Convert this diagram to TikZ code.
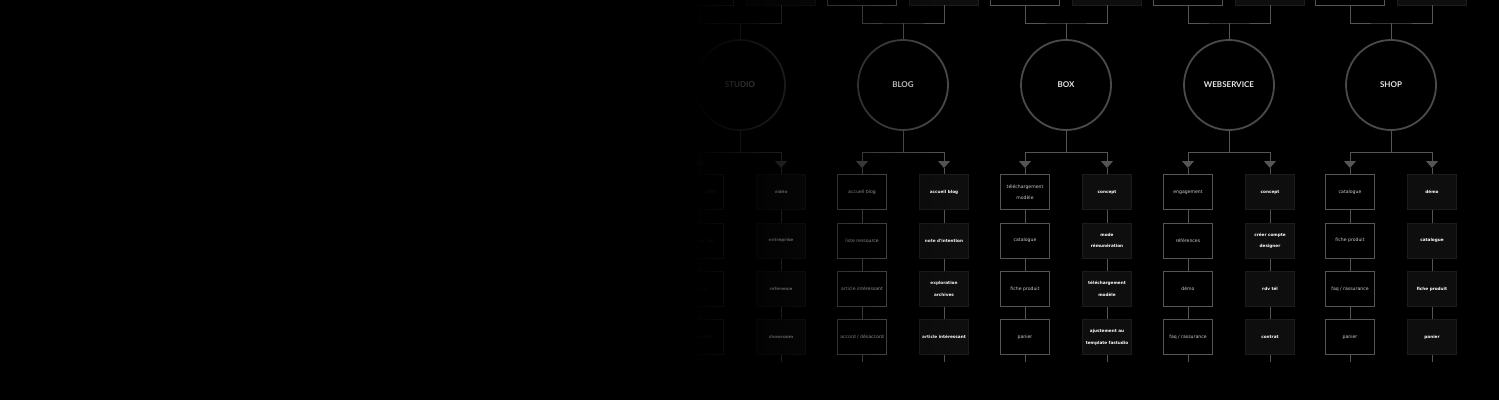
\documentclass[tikz,border=0pt]{standalone}
\usepackage{fontspec}
\setmainfont{Lato}
\newfontfamily\pagefont{DejaVu Sans}
\usetikzlibrary{arrows.meta,fadings}

\definecolor{linegray}{HTML}{555555}
\definecolor{ringgray}{HTML}{4A4A4A}
\definecolor{boxfill}{HTML}{0E0E0E}
\definecolor{boxedge}{HTML}{1C1C1C}
\definecolor{textgray}{HTML}{CCCCCC}
\definecolor{labelgray}{HTML}{E6E6E6}

\tikzfading[name=fade right, left color=transparent!0, right color=transparent!100]

\tikzset{
  pagebox/.style={draw=linegray, line width=0.9pt, fill=black, text=textgray,
    minimum width=49pt, minimum height=35pt, inner sep=1pt, align=center,
    font=\pagefont\fontsize{4.6}{11.5}\selectfont},
  pickbox/.style={pagebox, draw=boxedge, fill=boxfill, text=white,
    font=\pagefont\fontsize{4.2}{11.5}\selectfont\bfseries},
  rubric/.style={circle, draw=ringgray, line width=1.8pt, minimum size=90pt,
    inner sep=0pt, text=labelgray, font=\fontsize{8}{10}\selectfont\bfseries},
  wire/.style={draw=linegray, line width=0.9pt},
  drop/.style={wire, -{Triangle[length=7pt,width=12pt]}},
}

\begin{document}
\begin{tikzpicture}[x=1pt,y=-1pt]
\fill[black] (0,0) rectangle (1499,400);
\useasboundingbox (0,0) rectangle (1499,400);
\clip (0,0) rectangle (1499,400);
\foreach \cx/\nm/\lbl/\lefts/\rights in {
  740/studio/STUDIO/{équipe / profils,étude de cas,contacts,philosophie}/{vidéo,entreprise,référence,showroom},
  903/blog/BLOG/{accueil blog,liste ressource,article intéressant,accord / désaccord}/{accueil blog,note d'intention,exploration\\archives,article intéressant},
  1066/box/BOX/{téléchargement\\modèle,catalogue,fiche produit,panier}/{concept,mode\\rémunération,téléchargement\\modèle,ajustement au\\template fastudio},
  1229/ws/WEBSERVICE/{engagement,références,démo,faq / rassurance}/{concept,créer compte\\designer,rdv tél,contrat},
  1391/shop/SHOP/{catalogue,fiche produit,faq / rassurance,panier}/{démo,catalogue,fiche produit,panier}} {
  % top row, cut by the page edge
  \node[pagebox, minimum width=69pt] (\nm-tl) at (\cx-41,-12.5) {};
  \node[pickbox, minimum width=69pt] (\nm-tr) at (\cx+41,-12.5) {};
  \node[rubric] (\nm) at (\cx,85) {\lbl};
  \coordinate (\nm-join) at (\cx,23);
  \draw[wire] (\nm-tl.south) |- (\nm-join) -| (\nm-tr.south);
  \draw[wire] (\nm-join) -- (\nm.north);
  % the two columns of pages
  \foreach \t [count=\i] in \lefts {
    \pgfmathsetmacro{\rowy}{144+48.3*\i}
    \node[pagebox] (\nm-l\i) at (\cx-41,\rowy) {\t};
  }
  \foreach \t [count=\i] in \rights {
    \pgfmathsetmacro{\rowy}{144+48.3*\i}
    \node[pickbox] (\nm-r\i) at (\cx+41,\rowy) {\t};
  }
  \foreach \i/\j in {1/2,2/3,3/4} {
    \draw[wire] (\nm-l\i.south) -- (\nm-l\j.north);
    \draw[wire] (\nm-r\i.south) -- (\nm-r\j.north);
  }
  \coordinate (\nm-lend) at (\cx-41,362);
  \coordinate (\nm-rend) at (\cx+41,362);
  \draw[wire] (\nm-l4.south) -- (\nm-lend);
  \draw[wire] (\nm-r4.south) -- (\nm-rend);
  % fork with the two drops
  \coordinate (\nm-fork) at (\cx,152);
  \coordinate (\nm-tipl) at (\cx-41,168);
  \coordinate (\nm-tipr) at (\cx+41,168);
  \draw[wire] (\nm.south) -- (\nm-fork);
  \draw[drop] (\nm-fork) -| (\nm-tipl);
  \draw[drop] (\nm-fork) -| (\nm-tipr);
  \draw[wire] (\nm-tipl) -- (\nm-l1.north);
  \draw[wire] (\nm-tipr) -- (\nm-r1.north);
}
% left side fades into the dark
\fill[black] (0,0) rectangle (690,400);
\fill[black, path fading=fade right] (690,0) rectangle (950,400);
\end{tikzpicture}
\end{document}
